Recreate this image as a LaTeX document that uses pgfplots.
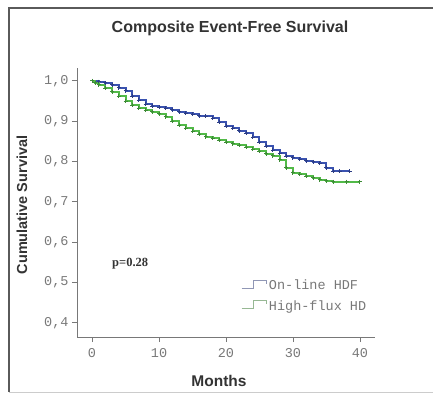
\documentclass[border=0pt]{standalone}
\usepackage{fontspec}
\setmainfont{Liberation Sans}
\newfontfamily\monofont{Liberation Mono}
\newfontfamily\seriffont{Liberation Serif}
\usepackage{pgfplots}
\pgfplotsset{compat=1.18}
\definecolor{hdfblue}{RGB}{58,82,176}
\definecolor{hdgreen}{RGB}{82,186,72}
\definecolor{axgray}{RGB}{120,120,120}
\definecolor{framegray}{RGB}{90,90,90}
\begin{document}
\begin{tikzpicture}
\path[use as bounding box] (0,0) rectangle (433bp,394bp);
\draw[framegray, line width=2bp] (9bp,2bp) -- (9bp,386bp) -- (433bp,386bp);
\draw[gray!40, line width=1bp] (9bp,1.5bp) -- (433bp,1.5bp);
\node[font=\fontsize{16bp}{18bp}\selectfont\bfseries, text=black!80] at (230bp,366bp) {Composite Event-Free Survival};
\node[font=\fontsize{14.5bp}{16bp}\selectfont\bfseries, text=black!80, rotate=90] at (22bp,189bp) {Cumulative Survival};
\node[font=\fontsize{15.5bp}{17bp}\selectfont\bfseries, text=black!80] at (219bp,13bp) {Months};
\begin{axis}[
  at={(77bp,57bp)}, anchor=south west,
  scale only axis, width=298bp, height=269bp,
  xmin=-2.24, xmax=42.24, ymin=0.365, ymax=1.032,
  axis x line=bottom, axis y line=left,
  axis line style={-, axgray, line width=0.9bp},
  tick style={axgray, line width=0.9bp},
  tick align=outside, major tick length=5bp,
  xtick={0,10,20,30,40}, ytick={0.4,0.5,0.6,0.7,0.8,0.9,1.0},
  /pgf/number format/assume math mode=true,
  ticklabel style={font=\monofont\fontsize{13.5bp}{15bp}\selectfont, text=axgray},
  yticklabel style={/pgf/number format/.cd, fixed, fixed zerofill, precision=1, use comma},
  xticklabel style={yshift=-3bp},
  legend style={at={(rel axis cs:0.55,0.22)}, anchor=north west, draw=none, fill=none,
    font=\monofont\fontsize{13.5bp}{15bp}\selectfont, text=axgray, row sep=5bp,
    inner sep=0pt},
  legend cell align=left,
  clip=false,
]
\addplot[const plot, color=hdfblue, line width=2bp, mark=+, mark size=2bp,
  mark options={line width=1bp, color=hdfblue!75!black},
  legend image code/.code={\draw[hdfblue!45!gray!70, line width=0.9bp] (0bp,-3bp) -- (12bp,-3bp) -- (12bp,5bp) -- (25bp,5bp) -- (25bp,2bp);}]
coordinates {
(0,1.000) (1,0.998) (2,0.995) (3,0.990) (4,0.983) (5,0.975) (6,0.962) (7,0.952)
(8,0.942) (9,0.937) (10,0.935) (11,0.932) (12,0.928) (13,0.924) (14,0.920)
(15,0.917) (16,0.914) (17,0.912) (18,0.908) (19,0.898) (20,0.888) (21,0.882)
(22,0.876) (23,0.870) (24,0.860) (25,0.848) (26,0.838) (27,0.828) (28,0.820)
(29,0.813) (30,0.809) (31,0.806) (32,0.802) (33,0.799) (34,0.796) (35,0.785)
(36,0.776) (37,0.776) (38.5,0.776)
};
\addlegendentry{On-line HDF}
\addplot[const plot, color=hdgreen, line width=2bp, mark=+, mark size=2bp,
  mark options={line width=1bp, color=hdgreen!75!black},
  legend image code/.code={\draw[hdgreen!45!gray!70, line width=0.9bp] (0bp,-3bp) -- (12bp,-3bp) -- (12bp,5bp) -- (25bp,5bp) -- (25bp,2bp);}]
coordinates {
(0,1.000) (0.5,0.995) (1,0.990) (2,0.982) (3,0.973) (4,0.962) (5,0.950) (6,0.940)
(7,0.932) (8,0.927) (9,0.923) (10,0.918) (11,0.911) (12,0.900) (13,0.890)
(14,0.882) (15,0.875) (16,0.868) (17,0.862) (18,0.858) (19,0.853) (20,0.848)
(21,0.844) (22,0.840) (23,0.835) (24,0.830) (25,0.825) (26,0.819) (27,0.815)
(28,0.805) (29,0.785) (30,0.772) (31,0.768) (32,0.764) (33,0.760) (34,0.755)
(35,0.752) (36,0.750) (38,0.750) (40,0.750)
};
\addlegendentry{High-flux HD}
\node[font=\seriffont\fontsize{12.5bp}{14bp}\selectfont\bfseries, text=black!80] at (axis cs:5.7,0.548) {p=0.28};
\end{axis}
\end{tikzpicture}
\end{document}
